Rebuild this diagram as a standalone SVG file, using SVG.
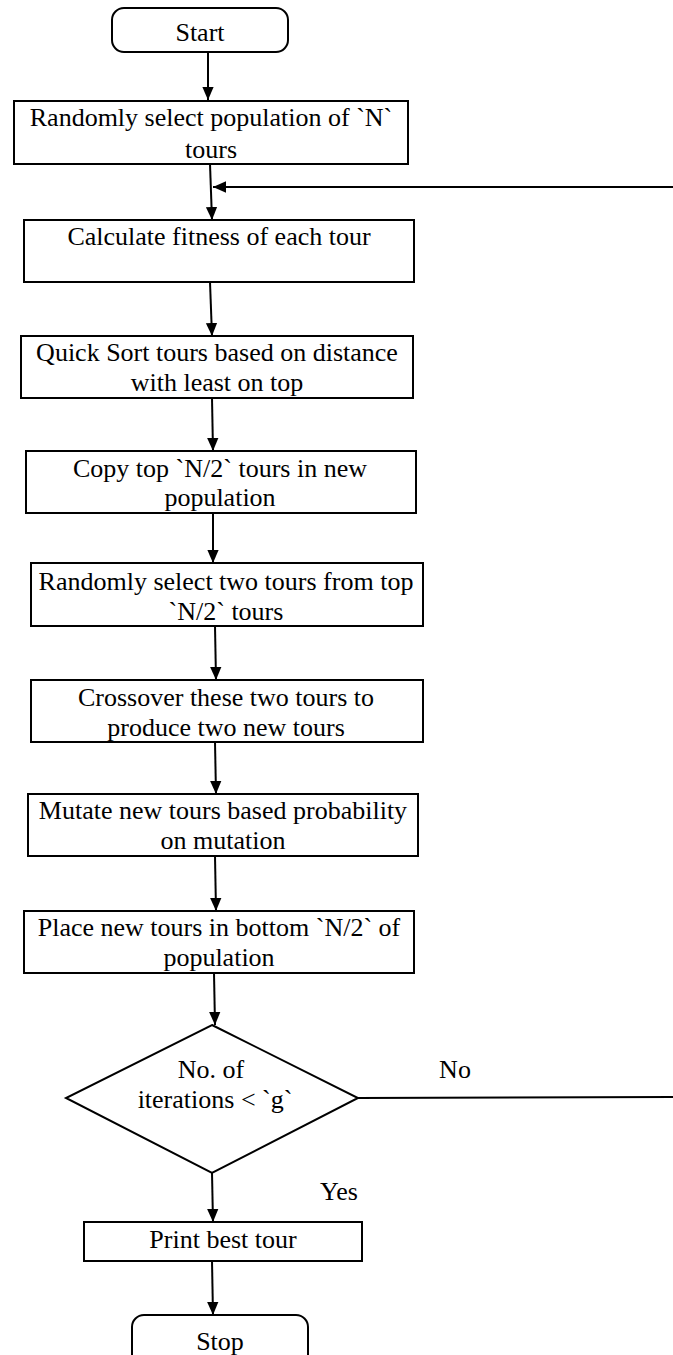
<svg xmlns="http://www.w3.org/2000/svg" width="673" height="1355" viewBox="0 0 673 1355">
<style>
.box{fill:#fff;stroke:#000;stroke-width:2}
.t{font-family:'Liberation Serif','Times New Roman','DejaVu Serif',serif;font-size:26px;fill:#000;text-anchor:middle}
.c{stroke:#000;stroke-width:2;fill:none}
</style>
<defs>
<marker id="ah" markerWidth="13" markerHeight="15" refX="15" refY="6.5" viewBox="0 0 15 13" orient="auto" markerUnits="userSpaceOnUse">
<path d="M0,0 L15,6.5 L0,13 Z" fill="#000"/>
</marker>
</defs>
<rect width="673" height="1355" fill="#fff"/>
<g id="connectors">
<line class="c" x1="208" y1="52" x2="208" y2="100" marker-end="url(#ah)"/>
<line class="c" x1="210" y1="164" x2="212" y2="220" marker-end="url(#ah)"/>
<line class="c" x1="673" y1="187" x2="213" y2="187" marker-end="url(#ah)"/>
<line class="c" x1="210" y1="282" x2="212" y2="336" marker-end="url(#ah)"/>
<line class="c" x1="212" y1="398" x2="213" y2="451" marker-end="url(#ah)"/>
<line class="c" x1="213" y1="513" x2="213" y2="563" marker-end="url(#ah)"/>
<line class="c" x1="215" y1="626" x2="216" y2="680" marker-end="url(#ah)"/>
<line class="c" x1="215" y1="742" x2="216" y2="794" marker-end="url(#ah)"/>
<line class="c" x1="215" y1="856" x2="216" y2="911" marker-end="url(#ah)"/>
<line class="c" x1="214" y1="973" x2="215" y2="1025" marker-end="url(#ah)"/>
<line class="c" x1="358" y1="1098" x2="673" y2="1097"/>
<line class="c" x1="212" y1="1173" x2="213" y2="1222" marker-end="url(#ah)"/>
<line class="c" x1="212" y1="1261" x2="213" y2="1315" marker-end="url(#ah)"/>
<text class="t" x="455" y="1078">No</text>
<text class="t" x="339" y="1200">Yes</text>
</g>
<g id="start">
<rect class="box" x="112" y="8" width="176" height="44" rx="12"/>
<text class="t" x="200" y="41">Start</text>
</g>
<g id="init">
<rect class="box" x="14" y="101" width="394" height="63"/>
<text class="t" x="211" y="126">Randomly select population of `N`</text>
<text class="t" x="211" y="158">tours</text>
</g>
<g id="fitness">
<rect class="box" x="24" y="220" width="390" height="62"/>
<text class="t" x="219" y="245">Calculate fitness of each tour</text>
</g>
<g id="sort">
<rect class="box" x="21" y="336" width="392" height="62"/>
<text class="t" x="217" y="361">Quick Sort tours based on distance</text>
<text class="t" x="217" y="391">with least on top</text>
</g>
<g id="copy">
<rect class="box" x="26" y="451" width="390" height="62"/>
<text class="t" x="220" y="477">Copy top `N/2` tours in new</text>
<text class="t" x="220" y="506">population</text>
</g>
<g id="select">
<rect class="box" x="31" y="563" width="392" height="63"/>
<text class="t" x="226" y="590">Randomly select two tours from top</text>
<text class="t" x="226" y="620">`N/2` tours</text>
</g>
<g id="crossover">
<rect class="box" x="31" y="680" width="392" height="62"/>
<text class="t" x="226" y="706">Crossover these two tours to</text>
<text class="t" x="226" y="736">produce two new tours</text>
</g>
<g id="mutate">
<rect class="box" x="28" y="794" width="390" height="62"/>
<text class="t" x="223" y="819">Mutate new tours based probability</text>
<text class="t" x="223" y="849">on mutation</text>
</g>
<g id="place">
<rect class="box" x="24" y="911" width="390" height="62"/>
<text class="t" x="219" y="936">Place new tours in bottom `N/2` of</text>
<text class="t" x="219" y="966">population</text>
</g>
<g id="decision">
<polygon class="box" points="212,1025 358,1098 212,1173 66,1098"/>
<text class="t" x="211" y="1078">No. of</text>
<text class="t" x="215" y="1108">iterations &lt; `g`</text>
</g>
<g id="print">
<rect class="box" x="84" y="1222" width="278" height="39"/>
<text class="t" x="223" y="1248">Print best tour</text>
</g>
<g id="stop">
<rect class="box" x="132" y="1315" width="176" height="60" rx="12"/>
<text class="t" x="220" y="1350">Stop</text>
</g>
</svg>
